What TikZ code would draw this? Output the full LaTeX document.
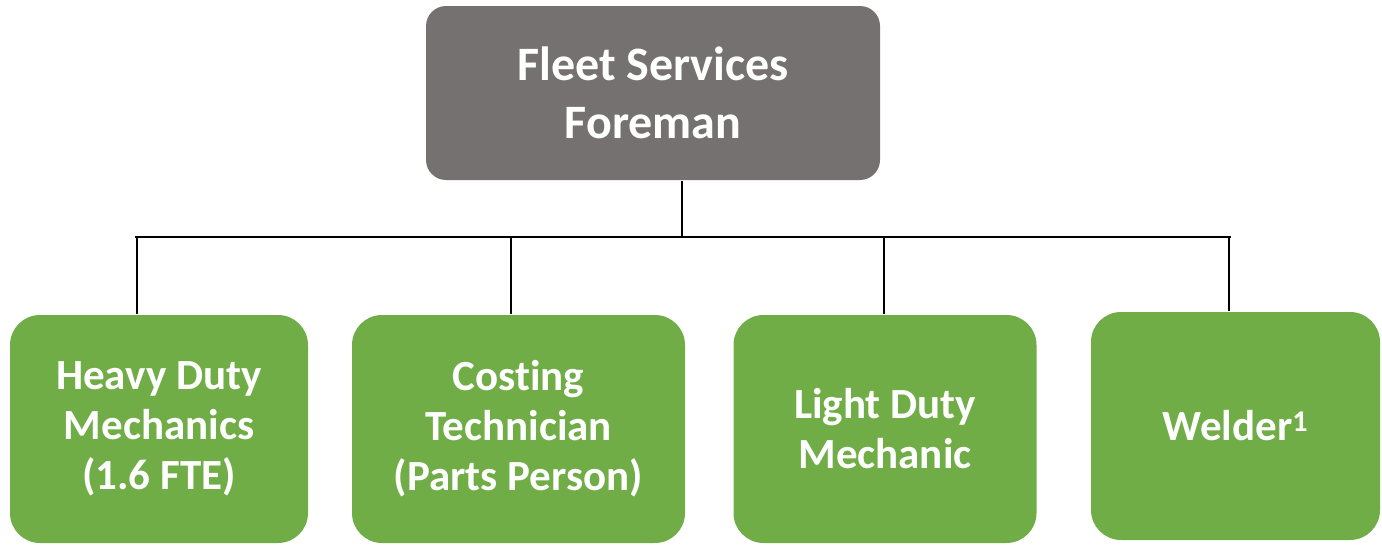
\documentclass[tikz,border=0pt]{standalone}
\usepackage{fontspec}
\setmainfont{Carlito}[Ligatures=NoCommon]
\usetikzlibrary{positioning}
\definecolor{bossgray}{HTML}{767171}
\definecolor{staffgreen}{HTML}{70AD47}

\begin{document}
\begin{tikzpicture}[x=1pt, y=-1pt, line width=2.2pt,
	boss/.style = {fill=bossgray, rounded corners=20pt, text=white, font=\bfseries\fontsize{48}{58}\selectfont, align=center, minimum width=454pt, minimum height=174pt},
	staff/.style = {fill=staffgreen, rounded corners=30pt, text=white, font=\bfseries\fontsize{43}{50}\selectfont, align=center, minimum height=228pt}]
\useasboundingbox (0,0) rectangle (1382,546);
\node[boss]							 (foreman)  at (653,93)    {Fleet Services\\Foreman};
\node[staff, minimum width=298pt]	 (heavy)	at (159,429)   {Heavy Duty\\Mechanics\\(1.6 FTE)};
\node[staff, minimum width=333pt]	 (costing)	at (518.5,429) {Costing\\Technician\\(Parts Person)};
\node[staff, minimum width=303pt]	 (light)	at (885,429)   {Light Duty\\Mechanic};
\node[staff, minimum width=289pt]	 (welder)	at (1235.5,426) {Welder\textsuperscript{1}};
\coordinate (busL) at (135,237);
\coordinate (busR) at (1231,237);
\coordinate (d0) at (682,237);
\coordinate (d1) at (137,237);
\coordinate (d2) at (511,237);
\coordinate (d3) at (884,237);
\coordinate (d4) at (1229,237);

\draw (d0|-foreman.south) -- (d0);
\draw (busL) -- (busR);
\draw (d1) -- (d1|-heavy.north);
\draw (d2) -- (d2|-costing.north);
\draw (d3) -- (d3|-light.north);
\draw (d4) -- (d4|-welder.north);

\end{tikzpicture}
\end{document}
